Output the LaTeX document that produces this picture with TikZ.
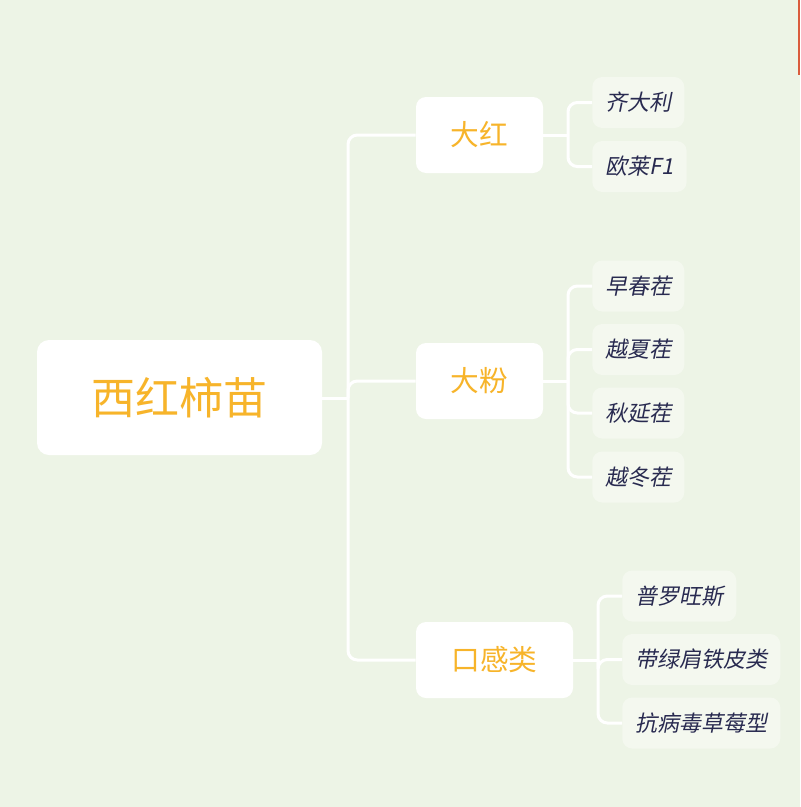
\documentclass[tikz,border=0pt]{standalone}
\usepackage{fontspec}
\setmainfont{Noto Sans CJK SC}
\newfontfamily\cjkslant[FakeSlant=0.2]{Noto Sans CJK SC}
\usepackage{xcolor}
\usetikzlibrary{positioning,calc}
\definecolor{bgGreen}{HTML}{EDF4E6}
\definecolor{leafFill}{HTML}{F4F8EF}
\definecolor{titleOrange}{HTML}{F7B42A}
\definecolor{leafInk}{HTML}{282A50}
\definecolor{edgeMark}{HTML}{DA5C3C}

\begin{document}
\begin{tikzpicture}[
  x=0.75pt, y=-0.75pt,
  root/.style={fill=white, rounded corners=9pt, minimum width=213.75pt,
               minimum height=86.25pt, text=titleOrange, font=\fontsize{33}{36}\selectfont},
  topic/.style={fill=white, rounded corners=7.5pt, minimum width=95.25pt,
                minimum height=57pt, text=titleOrange, font=\fontsize{21.5}{24}\selectfont},
  leaf/.style={fill=leafFill, rounded corners=7.5pt, anchor=west, inner xsep=9.75pt,
               minimum height=38.25pt, text=leafInk, font=\cjkslant\fontsize{16.5}{19}\selectfont},
  conn/.style={draw=white, line width=2.25pt, rounded corners=7pt}
]
% ── Canvas ───────────────────────────────────────────────────────────────────
\fill[bgGreen] (0,0) rectangle (800,807);
\useasboundingbox (0,0) rectangle (800,807);
\draw[edgeMark, line width=1.2pt] (798.8,0) -- (798.8,75);

% ── Root and topics ──────────────────────────────────────────────────────────
\node[root] (tomato) at (179.5,397.5) {西红柿苗};
\node[topic] (red)   at (479.5,135) {大红};
\node[topic] (pink)  at (479.5,381) {大粉};
\node[topic, minimum width=117.75pt] (taste) at (494.5,660) {口感类};

% ── Junction coordinates ─────────────────────────────────────────────────────
\coordinate (jroot)  at (348,398);
\coordinate (jred)   at (568,135);
\coordinate (jpink)  at (568,381);
\coordinate (jtaste) at (598,660);

% ── Leaves ───────────────────────────────────────────────────────────────────
\node[leaf] (qidali)  at (592,102.5) {齐大利};
\node[leaf] (oulai)   at (592,166.5) {欧莱F1};
\node[leaf] (zaochun) at (592,286)   {早春茬};
\node[leaf] (yuexia)  at (592,349.5) {越夏茬};
\node[leaf] (qiuyan)  at (592,413)   {秋延茬};
\node[leaf] (yuedong) at (592,477)   {越冬茬};
\node[leaf] (puluo)   at (622,596)   {普罗旺斯};
\node[leaf] (lvjian)  at (622,659.5) {带绿肩铁皮类};
\node[leaf] (kangbing) at (622,723)  {抗病毒草莓型};

% ── Connectors: root → topics ────────────────────────────────────────────────
\draw[conn] (tomato.east |- jroot) -- (jroot);
\draw[conn] (jroot) |- (red.west);
\draw[conn] (jroot) |- (pink.west);
\draw[conn] (jroot) |- (taste.west);

% ── Connectors: topics → leaves ──────────────────────────────────────────────
\draw[conn] (red.east) -- (jred);
\draw[conn] (jred) |- (qidali.west);
\draw[conn] (jred) |- (oulai.west);
\draw[conn] (pink.east) -- (jpink);
\foreach \leafname in {zaochun,yuexia,qiuyan,yuedong}
  \draw[conn] (jpink) |- (\leafname.west);
\draw[conn] (taste.east) -- (jtaste);
\foreach \leafname in {puluo,lvjian,kangbing}
  \draw[conn] (jtaste) |- (\leafname.west);
\end{tikzpicture}
\end{document}
